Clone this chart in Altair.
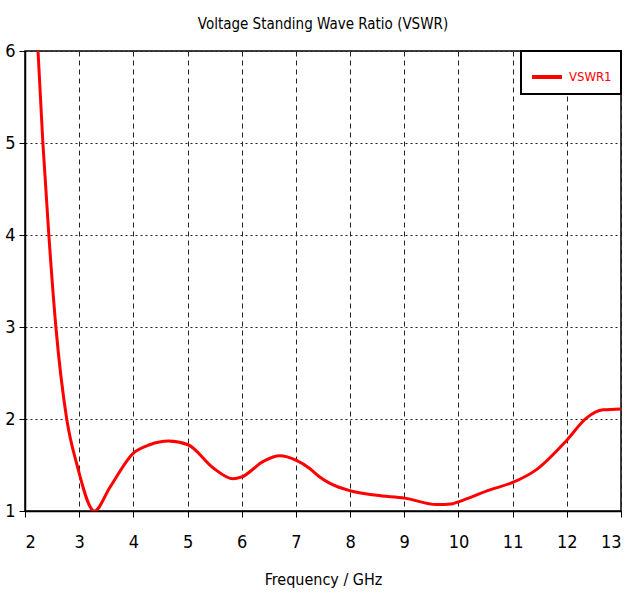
import altair as alt
import pandas as pd

freq = [2.24, 2.33, 2.44, 2.57, 2.77, 2.96, 3.28, 3.57, 4.0, 4.3, 4.65, 5.01, 5.47, 5.84,
        6.0, 6.4, 6.7, 7.01, 7.26, 7.44, 7.63, 8.0, 8.49, 9.01, 9.6, 9.9, 10.0, 10.58,
        11.0, 11.44, 12.0, 12.36, 12.67, 13.0]
vswr = [6.0, 5.0, 4.0, 3.0, 2.0, 1.5, 1.0, 1.26, 1.63, 1.72, 1.76, 1.72, 1.47, 1.35,
        1.37, 1.54, 1.60, 1.55, 1.46, 1.37, 1.30, 1.22, 1.17, 1.14, 1.07, 1.08, 1.10, 1.23,
        1.31, 1.45, 1.77, 2.01, 2.10, 2.11]
series = ["VSWR1"] * len(freq)

df = pd.DataFrame({"freq": freq, "vswr": vswr, "series": series})

FONT = "DejaVu Sans Condensed"

chart = alt.Chart(df).mark_line(
    interpolate="monotone", strokeWidth=3, clip=True
).encode(
    x=alt.X("freq:Q", title="Frequency / GHz",
            scale=alt.Scale(domain=[2, 13], nice=False, zero=False),
            axis=alt.Axis(values=list(range(2, 14)), gridDash=[5, 4], tickSize=6,
                          labelPadding=16, titlePadding=20)),
    y=alt.Y("vswr:Q", title=None,
            scale=alt.Scale(domain=[1, 6], nice=False, zero=False),
            axis=alt.Axis(values=[1, 2, 3, 4, 5, 6], gridDash=[2, 3], tickSize=6,
                          labelPadding=4)),
    color=alt.Color("series:N", title=None,
                    scale=alt.Scale(domain=["VSWR1"], range=["#ff0000"]),
                    legend=alt.Legend(orient="top-right", offset=0, symbolType="stroke",
                                      symbolStrokeWidth=4, symbolSize=900,
                                      labelColor="#ff0000", labelFontSize=13,
                                      labelFont=FONT, padding=9, labelOffset=5,
                                      strokeColor="black", fillColor="white")),
).properties(
    width=596, height=460,
    title=alt.TitleParams("Voltage Standing Wave Ratio (VSWR)", fontSize=15,
                          font=FONT, fontWeight="normal", color="black", offset=10),
    autosize=alt.AutoSizeParams(type="none"),
    padding={"left": 25, "top": 51, "right": 9, "bottom": 84},
).configure_view(
    stroke="black", strokeWidth=1.5
).configure_axis(
    domainColor="black", domainWidth=1.5, tickColor="black", gridColor="#222222",
    gridOpacity=1, gridWidth=1, labelFont=FONT, labelFontSize=18, labelColor="black",
    titleFont=FONT, titleFontSize=16, titleFontWeight="normal", titleColor="black"
).configure_legend(
    strokeWidth=2
)

chart.save("out.html", embed_options={"renderer": "svg", "actions": False})
